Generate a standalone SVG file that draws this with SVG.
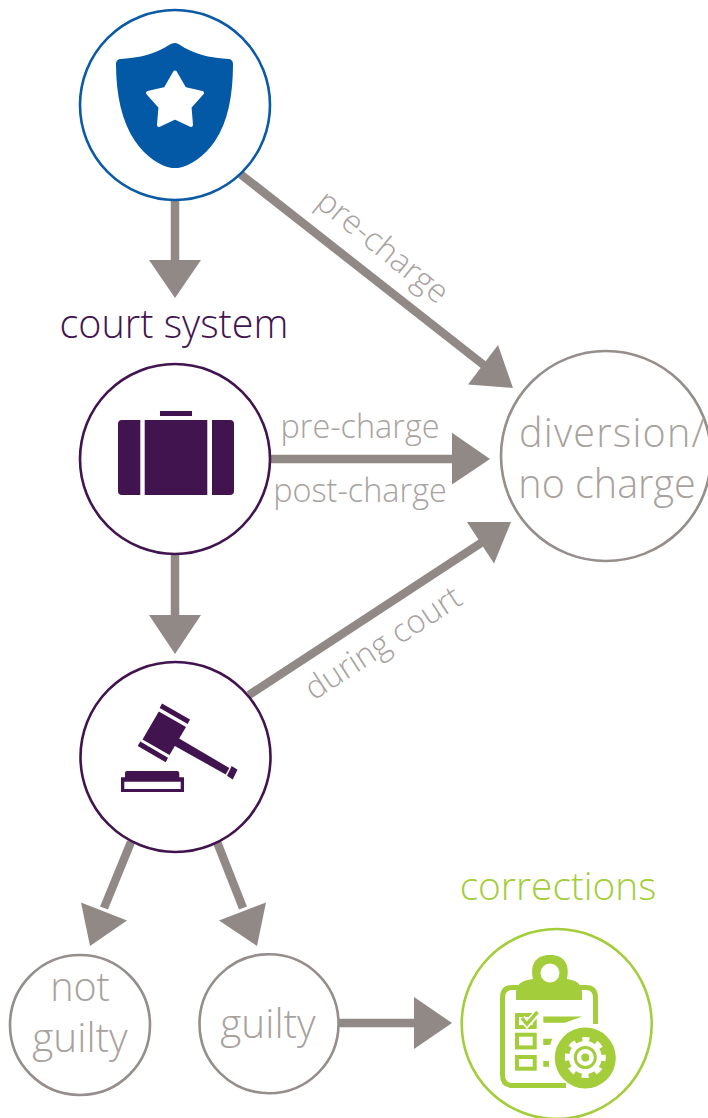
<svg xmlns="http://www.w3.org/2000/svg" width="708" height="1118" viewBox="0 0 708 1118">
<style>
text{font-family:"Open Sans","Noto Sans","Liberation Sans",sans-serif;font-weight:300;text-anchor:middle}
.g{fill:#a8a29e}
.big{font-size:39.500px}
.sm{font-size:32.400px}
.c{fill:#fff;stroke-width:2.600}
.l{stroke:#918985;stroke-width:8.500;fill:none}
.h{fill:#918985}
.p{fill:#411450}
.n{fill:#a3cd3a}
.ns{fill:none;stroke:#a3cd3a;stroke-width:4}
</style>
<rect width="708" height="1118" fill="#fff"/>
<g id="connectors">
<path class="l" d="M175 198V262"/><path class="h" d="M149 260H201L175 298Z"/>
<path class="l" d="M239 173L485 366"/><path class="h" d="M513 388L468 384.500L498 345Z"/>
<path class="l" d="M268 459H456"/><path class="h" d="M452 432.700L490 459L452 484.500Z"/>
<path class="l" d="M175 552V618"/><path class="h" d="M149 615H201L175 654Z"/>
<path class="l" d="M249 695L484 541"/><path class="h" d="M511 522L494 563.500L467 522Z"/>
<path class="l" d="M131 842L104 908"/><path class="h" d="M90 946L81 902.500L127 920.500Z"/>
<path class="l" d="M217 842L243 908"/><path class="h" d="M257 946L219 920.500L266 902.500Z"/>
<path class="l" d="M338 1023H418"/><path class="h" d="M414 997L452 1023L414 1049Z"/>
</g>
<g id="police">
<circle class="c" cx="175" cy="105" r="95" stroke="#0b5aa6"/>
<path fill="#0459a6" d="M175 43C170 43 167 47 160 50C148 56 134 58 121 59C118 59 116 61 116 64C116 95 122 122 135 141C146 157 160 166 172 168H178C190 166 204 157 215 141C228 122 233 95 233 64C233 61 231 59 228 59C215 58 201 56 189 50C182 47 179 43 175 43Z"/>
<path fill="#fff" stroke="#fff" stroke-width="4" stroke-linejoin="round" d="M175 72.500L184.500 89L202 93L189.500 107L191 125L175 117.500L159 125L160.500 107L148 93L165.500 89Z"/>
</g>
<g id="court-system">
<text x="174" y="338" class="big" fill="#411450">court system</text>
<circle class="c" cx="175" cy="459" r="95" stroke="#411450"/>
<rect class="p" x="160" y="411" width="32" height="5"/>
<path class="p" d="M122 420H140.300V495H122Q118 495 118 491V424Q118 420 122 420ZM144.700 420H207.300V495H144.700ZM212 420H230Q234 420 234 424V491Q234 495 230 495H212Z"/>
</g>
<g id="judge">
<circle class="c" cx="175.500" cy="757" r="95" stroke="#411450"/>
<path class="p" d="M158.800 711.500L186 727L169.500 755L142.500 739.500Z"/>
<path class="p" d="M162 703.500L190 719.500L187.700 724L159.700 708Z"/>
<path class="p" d="M140.300 741.500L168 757.700L165.700 762.200L137.700 746Z"/>
<path class="p" d="M178.300 738L229.300 768L225.700 774.500L174 745.500Z"/>
<path class="p" d="M231.700 766L237.500 769.700L232.700 779.500L227 775.700Z"/>
<path class="p" fill-rule="evenodd" d="M127 771H177Q179.300 771 179.300 773V777.300H184V792H121V777.300H125V773Q125 771 127 771ZM124.300 781.700V789H180.700V781.700Z"/>
</g>
<g id="diversion">
<circle class="c" cx="606" cy="456" r="105" stroke="#958e8a"/>
<text x="519" y="447" class="big g" style="text-anchor:start" textLength="186">diversion/</text>
<text x="607" y="498" class="big g">no charge</text>
</g>
<g id="not-guilty">
<circle class="c" cx="80" cy="1025" r="70" stroke="#958e8a"/>
<text x="80" y="1001" class="big g">not</text>
<text x="80" y="1052" class="big g" style="font-size:40.500px">guilty</text>
</g>
<g id="guilty">
<circle class="c" cx="269" cy="1023.700" r="69.500" stroke="#958e8a"/>
<text x="268" y="1038" class="big g" style="font-size:40.500px">guilty</text>
</g>
<g id="corrections">
<text x="558" y="900" class="big" style="font-size:38.800px" fill="#a3cd3a">corrections</text>
<circle class="c" cx="556.700" cy="1024" r="95" stroke="#a3cd3a"/>
<path fill="none" stroke="#a3cd3a" stroke-width="5" d="M518 987.500H512Q502.500 987.500 502.500 998V1075Q502.500 1085.500 513 1085.500H566M580 987.500H586Q595.500 987.500 595.500 998V1024"/>
<path class="n" fill-rule="evenodd" d="M516 1000V992Q516 981 533 979C530 965 535 955 550 955C565 955 570 965 567 979Q582 981 582 992V1000ZM550 963.500A9.500 9.500 0 1 0 550 982.500A9.500 9.500 0 1 0 550 963.500Z"/>
<rect class="ns" x="517" y="1015" width="17.700" height="12"/>
<path fill="none" stroke="#fff" stroke-width="7" d="M522 1018L527 1024L538 1012"/>
<path fill="none" stroke="#a3cd3a" stroke-width="3.500" d="M522 1018L527 1024L537.500 1012"/>
<rect class="ns" x="517" y="1034.700" width="17.700" height="12.700"/>
<rect class="ns" x="517" y="1057" width="17.700" height="11.700"/>
<path class="n" d="M543.300 1016.500H582.300L565 1022.700H543.300ZM543.300 1038.700H552.300L550 1045H543.300ZM543.300 1061H549V1066.700H543.300Z"/>
<circle class="n" cx="585.300" cy="1058" r="30.500"/>
<circle cx="585.300" cy="1057.500" r="16.500" fill="#fff"/>
<circle cx="585.300" cy="1057.500" r="18" fill="none" stroke="#fff" stroke-width="5" stroke-dasharray="7 7.137" stroke-dashoffset="3.500"/>
<circle class="n" cx="585.300" cy="1057.500" r="11.500"/>
<circle cx="585.300" cy="1057.500" r="8.500" fill="#fff"/>
<circle class="n" cx="585.300" cy="1057.500" r="4"/>
</g>
<g id="labels">
<text transform="translate(376 255) rotate(39)" class="sm g">pre-charge</text>
<text x="360" y="438" class="sm g">pre-charge</text>
<text x="360" y="502" class="sm g">post-charge</text>
<text transform="translate(389 652) rotate(-33)" class="sm g">during court</text>
</g>
</svg>
